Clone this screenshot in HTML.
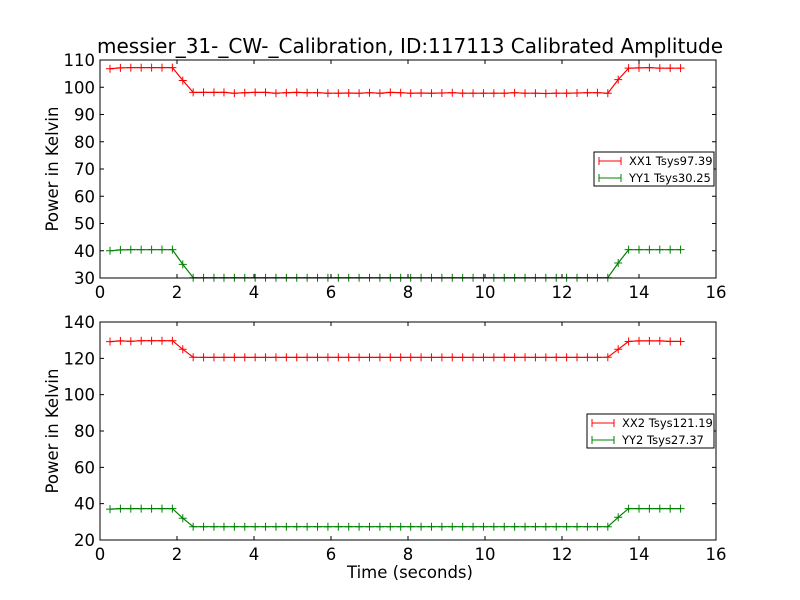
<!DOCTYPE html>
<html><head><meta charset="utf-8"><style>
body{margin:0;background:#fff}
svg{display:block;font-family:"DejaVu Sans","Liberation Sans",sans-serif}
</style></head><body>
<svg id="c" width="800" height="600" viewBox="0 0 800 600">
<rect width="800" height="600" fill="#fff"/>
<text x="410" y="53" font-size="20" text-anchor="middle">messier_31-_CW-_Calibration, ID:117113 Calibrated Amplitude</text>
<text x="410" y="578" font-size="16.5" text-anchor="middle">Time (seconds)</text>
</svg>
<script>
const times=[0.26,0.53,0.80,1.07,1.34,1.61,1.88,2.15,2.42,2.69,2.96,3.22,3.49,3.76,4.03,4.30,4.57,4.84,5.11,5.38,5.65,5.92,6.19,6.46,6.73,7.00,7.27,7.54,7.81,8.07,8.34,8.61,8.88,9.15,9.42,9.69,9.96,10.23,10.50,10.77,11.04,11.31,11.58,11.85,12.12,12.39,12.66,12.92,13.19,13.46,13.73,14.00,14.27,14.54,14.81,15.08];
const xx1=[106.8,107.1,107.2,107.2,107.2,107.2,107.2,102.5,98.1,98.1,98.1,98.1,97.8,98.0,98.1,98.1,97.8,98.0,98.1,98.0,98.0,97.8,97.8,97.9,97.8,98.0,97.8,98.1,98.0,97.8,97.9,97.8,97.9,98.0,97.8,97.8,97.8,97.8,97.8,98.0,97.8,97.8,97.7,97.8,97.8,97.9,98.0,98.0,97.8,102.8,107.0,107.1,107.2,107.0,107.0,107.0];
const yy1=[40.0,40.3,40.4,40.4,40.4,40.4,40.4,35.0,30.1,30.1,30.1,30.1,30.1,30.1,30.1,30.1,30.1,30.1,30.1,30.1,30.1,30.1,30.1,30.1,30.1,30.1,30.1,30.1,30.1,30.1,30.1,30.1,30.1,30.1,30.1,30.1,30.1,30.1,30.1,30.1,30.1,30.1,30.1,30.1,30.1,30.1,30.1,30.1,30.1,35.5,40.4,40.4,40.4,40.4,40.4,40.4];
const xx2=[129.2,129.6,129.4,129.7,129.7,129.7,129.7,125.0,120.6,120.5,120.5,120.5,120.5,120.5,120.5,120.5,120.5,120.5,120.5,120.5,120.5,120.5,120.5,120.5,120.5,120.5,120.5,120.5,120.5,120.5,120.5,120.5,120.5,120.5,120.5,120.5,120.5,120.5,120.5,120.5,120.5,120.5,120.5,120.5,120.5,120.5,120.5,120.5,120.6,125.0,129.3,129.6,129.6,129.6,129.3,129.3];
const yy2=[37.0,37.3,37.3,37.3,37.3,37.3,37.3,32.0,27.3,27.3,27.3,27.3,27.3,27.3,27.3,27.3,27.3,27.3,27.3,27.3,27.3,27.3,27.3,27.3,27.3,27.3,27.3,27.3,27.3,27.3,27.3,27.3,27.3,27.3,27.3,27.3,27.3,27.3,27.3,27.3,27.3,27.3,27.3,27.3,27.3,27.3,27.3,27.3,27.3,32.5,37.3,37.3,37.3,37.3,37.3,37.3];
const xTicks=[0,2,4,6,8,10,12,14,16];
const yTicksTop=[30,40,50,60,70,80,90,100,110];
const yTicksBot=[20,40,60,80,100,120,140];
const NS='http://www.w3.org/2000/svg';
const svg=document.getElementById('c');
function mk(tag,attrs,parent){const e=document.createElementNS(NS,tag);for(const k in attrs)e.setAttribute(k,attrs[k]);(parent||svg).appendChild(e);return e;}
function panel(pname,top,bottom,ymin,ymax,yTicks,series,legend){
  const L=100,R=716;
  const g=mk('g',{});
  
  
  const xs=v=>L+(v-0)/(16-0)*(R-L);
  const ys=v=>bottom-(v-ymin)/(ymax-ymin)*(bottom-top);
  series.forEach(s=>{
    const pts=times.map((t,i)=>xs(t).toFixed(1)+','+ys(s.vals[i]).toFixed(1)).join(' ');
    const pl=mk('polyline',{points:pts,fill:'none',stroke:s.color,'stroke-width':1.2},g);
    
    
    times.forEach((t,i)=>{
      const x=xs(t),y=ys(s.vals[i]);
      const m=mk('path',{d:`M${x-4},${y}H${x+4}M${x},${y-4}V${y+4}`,stroke:s.color,'stroke-width':1},g);
      
      
    });
  });
  const fr=mk('rect',{x:L,y:top,width:R-L,height:bottom-top,fill:'none',stroke:'#000','stroke-width':1},g);
  
  
  xTicks.forEach(v=>{
    const x=xs(v);
    mk('path',{d:`M${x},${bottom}v-4M${x},${top}v4`,stroke:'#000'},g);
    const t=mk('text',{x:x,y:bottom+20,'font-size':16.5,'text-anchor':'middle'},g);
    t.textContent=v;
    
    
  });
  yTicks.forEach(v=>{
    const y=ys(v);
    mk('path',{d:`M${L},${y}h4M${R},${y}h-4`,stroke:'#000'},g);
    const t=mk('text',{x:L-5,y:y+6,'font-size':16.5,'text-anchor':'end'},g);
    t.textContent=v;
    
    
  });
  const cy=(top+bottom)/2;
  const yt=mk('text',{x:58,y:cy,'font-size':16.5,'text-anchor':'middle',transform:`rotate(-90 58 ${cy})`},g);
  yt.textContent='Power in Kelvin';
  
  
  const lg=mk('g',{},g);
  
  
  mk('rect',{x:legend.x,y:legend.y,width:R-2-legend.x,height:34,fill:'#fff',stroke:'#000','stroke-width':1},lg);
  series.forEach((s,i)=>{
    const y=legend.y+9+i*17;
    const e=mk('g',{},lg);
    
    
    mk('path',{d:`M${legend.x+5},${y}h22M${legend.x+5},${y-4}v8M${legend.x+27},${y-4}v8`,stroke:s.color,'stroke-width':1},e);
    const t=mk('text',{x:legend.x+35,y:y+4,'font-size':11.5},e);
    t.textContent=s.label;
  });
}
panel('top-panel',60,278,30,110,yTicksTop,[
  {name:'xx1',color:'#ff0000',vals:xx1,label:'XX1 Tsys97.39'},
  {name:'yy1',color:'#008000',vals:yy1,label:'YY1 Tsys30.25'}],{x:594,y:152});
panel('bottom-panel',322,540,20,140,yTicksBot,[
  {name:'xx2',color:'#ff0000',vals:xx2,label:'XX2 Tsys121.19'},
  {name:'yy2',color:'#008000',vals:yy2,label:'YY2 Tsys27.37'}],{x:587,y:414});
</script>
</body></html>
